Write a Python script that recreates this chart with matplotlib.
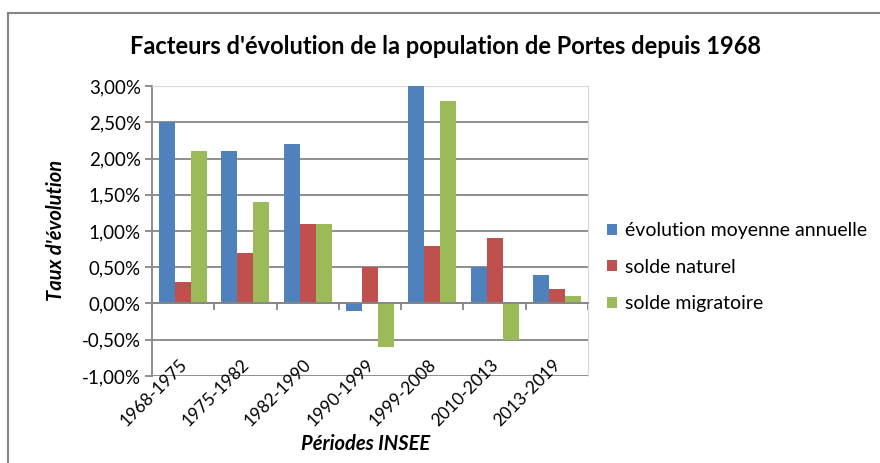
import numpy as np
import matplotlib
matplotlib.use("Agg")
import matplotlib.pyplot as plt
from matplotlib.lines import Line2D
from matplotlib import transforms

# data (in %)
periodes = ["1968-1975", "1975-1982", "1982-1990", "1990-1999", "1999-2008", "2010-2013", "2013-2019"]
evolution = [2.5, 2.1, 2.2, -0.1, 3.0, 0.5, 0.4]
naturel = [0.3, 0.7, 1.1, 0.5, 0.8, 0.9, 0.2]
migratoire = [2.1, 1.4, 1.1, -0.6, 2.8, -0.5, 0.1]
noms = ["évolution moyenne annuelle", "solde naturel", "solde migratoire"]
couleurs = ["#4F81BD", "#C0504D", "#9BBB59"]

plt.rcParams['font.family'] = ['Lato', 'DejaVu Sans']
grid_col = "#868686"

fig = plt.figure(figsize=(8.8, 4.63), dpi=100)
ax = fig.add_axes([0.1727, 0.188, 0.4955, 0.626])

x = np.arange(len(periodes))
w = 0.257
for k, (vals, col, nom) in enumerate(zip([evolution, naturel, migratoire], couleurs, noms)):
    ax.bar(x + (k - 1) * w, vals, w, color=col, label=nom, zorder=3)

ax.set_xlim(-0.5, len(periodes) - 0.5)
ax.set_ylim(-1, 3)
yt = np.arange(-1, 3.01, 0.5)
ax.set_yticks(yt)
ax.set_yticklabels([("%.2f%%" % v).replace(".", ",") for v in yt], fontsize=13.5)
ax.yaxis.grid(True, color=grid_col, lw=1.3, zorder=0)
ax.tick_params(axis='y', length=5, color=grid_col, width=1.3, pad=3)

# x axis line at zero with ticks between categories
ax.spines['bottom'].set_position(('data', 0))
ax.spines['bottom'].set_color(grid_col)
ax.spines['bottom'].set_linewidth(1.3)
ax.spines['bottom'].set_zorder(4)
ax.set_xticks(np.arange(len(periodes) + 1) - 0.5)
ax.set_xticklabels([])
ax.tick_params(axis='x', length=5, color=grid_col, width=1.3)
ax.spines['left'].set_color(grid_col)
ax.spines['left'].set_linewidth(1.3)
for s in ['top', 'right']:
    ax.spines[s].set_color("#D9D9D9")

# category labels near the bottom
off = transforms.offset_copy(ax.transData, fig=fig, x=1, y=10, units='points')
for i, p in enumerate(periodes):
    ax.text(i, -1, p, transform=off, rotation=45, rotation_mode='anchor',
            ha='right', va='center', fontsize=12.5)

fig.text(0.506, 0.9, "Facteurs d'évolution de la population de Portes depuis 1968",
         ha='center', va='center', fontsize=17, fontweight='bold')
fig.text(0.064, 0.503, "Taux d'évolution", rotation=90, ha='center', va='center',
         fontsize=14.5, fontweight='bold', fontstyle='italic')
fig.text(0.415, 0.04, "Périodes INSEE", ha='center', va='center',
         fontsize=14.5, fontweight='bold', fontstyle='italic')

fig.legend(loc='center left', bbox_to_anchor=(0.679, 0.423), frameon=False,
           fontsize=14, handlelength=0.5, handleheight=0.5, handletextpad=0.4,
           labelspacing=1.0, borderpad=0)

# outer chart border (cropped at right and bottom)
fig.add_artist(Line2D([0.009, 0.009], [0, 0.972], color=grid_col, lw=1.5, transform=fig.transFigure))
fig.add_artist(Line2D([0.009, 1], [0.972, 0.972], color=grid_col, lw=1.5, transform=fig.transFigure))

fig.savefig("out.png", dpi=100)
